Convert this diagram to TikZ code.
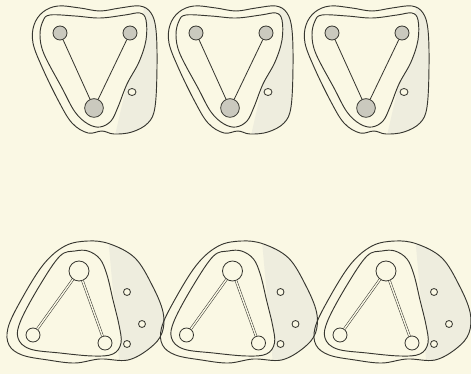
\documentclass[tikz,border=0pt]{standalone}
\usepackage{tikz}
\usetikzlibrary{shapes.geometric}

\definecolor{paper}{RGB}{250,248,228}
\definecolor{ink}{RGB}{55,55,48}
\definecolor{haze}{RGB}{238,237,222}
\definecolor{stipple}{RGB}{202,201,190}

% contours of one unit (pixel coordinates)
\newcommand{\topouter}{plot[smooth cycle, tension=0.6] coordinates {(58,6) (80,8) (100,11) (120,8) (140,6) (151,13) (156,30) (157,67) (155,107) (148,123) (132,132) (114,134) (102,131) (88,133) (72,123) (58,100) (42,67) (33,43) (34,25) (43,12)}}
\newcommand{\topinner}{plot[smooth cycle, tension=0.6] coordinates {(50,15) (75,16) (100,18) (125,15) (140,13) (146,20) (146,40) (139,62) (127,84) (118,107) (111,121) (100,127) (88,124) (75,112) (62,88) (44,54) (40,35) (43,21)}}
\newcommand{\lowouter}{plot[smooth cycle, tension=0.6] coordinates {(88,241) (110,244) (135,258) (152,285) (163,312) (162,333) (150,348) (128,360) (100,359) (75,363) (48,360) (22,355) (9,345) (8,328) (20,302) (43,265) (65,246)}}
\newcommand{\lowinner}{plot[smooth cycle, tension=0.6] coordinates {(88,251) (100,259) (107,275) (113,300) (119,325) (121,343) (113,354) (93,356) (60,353) (30,349) (18,338) (21,320) (40,285) (60,256) (75,251)}}

\begin{document}
\begin{tikzpicture}[
  x=0.03cm, y=-0.03cm,
  contour/.style={draw=ink, line width=0.8pt},
  ball/.style={circle, draw=ink, line width=0.7pt, inner sep=0pt, fill=stipple},
  ring/.style={circle, draw=ink, line width=0.7pt, inner sep=0pt, fill=paper},
  pore/.style={ellipse, draw=ink, line width=0.7pt, inner sep=0pt, fill=paper},
  rod/.style={draw=ink, line width=0.7pt},
  tube/.style={draw=ink, line width=0.45pt, double=paper, double distance=1.2pt},
]

% Paper
\fill[paper] (0,0) rectangle (471,374);
\useasboundingbox (0,0) rectangle (471,374);

% Top row
\foreach \i in {0,1,2} {
  \begin{scope}[shift={(136*\i,0)}]
    \begin{scope}
      \clip (146,0) -- (170,0) -- (170,140) -- (114,140) -- cycle;
      \fill[haze, even odd rule] \topouter \topinner;
    \end{scope}
    \draw[contour] \topouter;
    \draw[contour] \topinner;
    \node[ball, minimum size=0.42cm] (tl\i) at (60,33) {};
    \node[ball, minimum size=0.42cm] (tr\i) at (130,33) {};
    \node[ball, minimum size=0.56cm] (b\i) at (94,108) {};
    \node[pore, minimum width=0.24cm, minimum height=0.21cm] (p\i) at (132,92) {};
    \draw[rod] (tl\i) -- (b\i);
    \draw[rod] (tr\i) -- (b\i);
  \end{scope}
}

% Bottom row
\foreach \i in {0,1,2} {
  \begin{scope}[shift={(153.5*\i,0)}]
    \begin{scope}
      \clip (108,235) -- (170,235) -- (170,370) -- (120,370) -- cycle;
      \fill[haze, even odd rule] \lowouter \lowinner;
    \end{scope}
    \draw[contour] \lowouter;
    \draw[contour] \lowinner;
    \node[ring, minimum size=0.6cm] (t\i) at (79,271) {};
    \node[ring, minimum size=0.42cm] (l\i) at (33,335) {};
    \node[ring, minimum size=0.42cm] (r\i) at (105,343) {};
    \node[ring, minimum size=0.21cm] (q\i) at (127,292) {};
    \node[ring, minimum size=0.21cm] (s\i) at (142,324) {};
    \node[ring, minimum size=0.21cm] (u\i) at (127,344) {};
    \draw[tube] (t\i) -- (l\i);
    \draw[tube] (t\i) -- (r\i);
  \end{scope}
}

\end{tikzpicture}
\end{document}
